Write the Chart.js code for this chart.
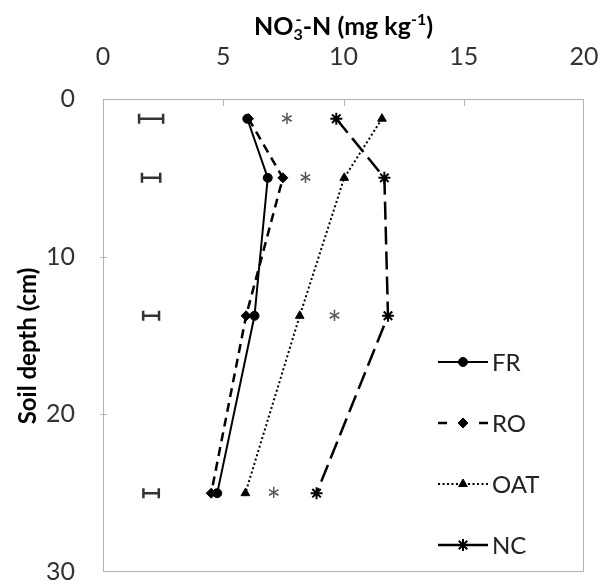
<!DOCTYPE html>
<html>
<head>
<meta charset="utf-8">
<script src="https://cdn.jsdelivr.net/npm/chart.js@4/dist/chart.umd.min.js"></script>
<style>
  html, body { margin: 0; padding: 0; background: #fff; }
  canvas { display: block; }
</style>
</head>
<body>
<canvas id="profile" width="603" height="588"></canvas>
<script>
// Sampling depths (cm, layer midpoints)
const depths = [1.25, 5, 13.75, 25];

// NO3--N concentration (mg kg-1) per treatment
const frValues  = [6.0, 6.85, 6.3, 4.75];
const roValues  = [6.05, 7.48, 5.95, 4.5];
const oatValues = [11.6, 10.03, 8.18, 5.92];
const ncValues  = [9.7, 11.7, 11.85, 8.88];

const seriesNames = ['FR', 'RO', 'OAT', 'NC'];

// Significance markers ("*") per depth
const sigMarkX = [7.65, 8.42, 9.62, 7.1];

// LSD bars per depth
const lsdCenter = [2.0, 2.0, 2.0, 2.0];
const lsdHalf   = [0.5, 0.38, 0.33, 0.32];

// Axis ranges / ticks
const xTicks = [0, 5, 10, 15, 20];
const yTicks = [0, 10, 20, 30];

const xTitleParts = [
  { t: 'NO', kind: 'main' },
  { t: '3', kind: 'sub', stackWith: '-' },
  { t: '-N (mg kg', kind: 'main' },
  { t: '-1', kind: 'sup' },
  { t: ')', kind: 'main' }
];
const yTitle = 'Soil depth (cm)';

const FONT = 'Lato, "Open Sans", sans-serif';
const toPoints = vals => depths.map((d, i) => ({ x: vals[i], y: d }));

const seriesStyle = [
  { dash: [],       legendDash: [],        width: 2,   point: 'circle',   r: 4.5, pw: 1 },
  { dash: [9, 6],   legendDash: [9, 100],  width: 2.5, point: 'rectRot',  r: 5,   pw: 1 },
  { dash: [2, 2.5], legendDash: [2, 2.5],  width: 2,   point: 'triangle', r: 5,   pw: 1 },
  { dash: [18, 7],  legendDash: [],        width: 2.5, point: 'star',     r: 6,   pw: 2 }
];
const seriesValues = [frValues, roValues, oatValues, ncValues];

const datasets = seriesNames.map((name, k) => ({
  label: name,
  data: toPoints(seriesValues[k]),
  showLine: true,
  borderColor: '#000',
  backgroundColor: '#000',
  borderWidth: seriesStyle[k].width,
  borderDash: seriesStyle[k].dash,
  pointStyle: seriesStyle[k].point,
  pointRadius: seriesStyle[k].r,
  pointBorderWidth: seriesStyle[k].pw,
  pointBackgroundColor: '#000',
  pointBorderColor: '#000',
  tension: 0
}));

// Frame, inner tick marks, LSD bars, significance stars, titles and legend
const frameAndMarks = {
  id: 'frameAndMarks',
  beforeDatasetsDraw(chart) {
    const { ctx, chartArea: a, scales: { x, y } } = chart;
    ctx.save();
    ctx.strokeStyle = '#b3b3b3';
    ctx.lineWidth = 1;
    ctx.strokeRect(a.left + 0.5, a.top + 0.5, a.right - a.left - 1, a.bottom - a.top - 1);
    ctx.beginPath();
    xTicks.slice(1, -1).forEach(v => {
      const px = Math.round(x.getPixelForValue(v)) + 0.5;
      ctx.moveTo(px, a.top); ctx.lineTo(px, a.top + 7);
    });
    yTicks.slice(1, -1).forEach(v => {
      const py = Math.round(y.getPixelForValue(v)) + 0.5;
      ctx.moveTo(a.left - 3, py); ctx.lineTo(a.left + 4, py);
    });
    ctx.stroke();

    // LSD bars
    ctx.strokeStyle = '#333';
    ctx.lineWidth = 2.5;
    depths.forEach((d, i) => {
      const py = y.getPixelForValue(d);
      const x0 = x.getPixelForValue(lsdCenter[i] - lsdHalf[i]);
      const x1 = x.getPixelForValue(lsdCenter[i] + lsdHalf[i]);
      ctx.beginPath();
      ctx.moveTo(x0, py); ctx.lineTo(x1, py);
      ctx.moveTo(x0, py - 5); ctx.lineTo(x0, py + 5);
      ctx.moveTo(x1, py - 5); ctx.lineTo(x1, py + 5);
      ctx.stroke();
    });

    // significance stars
    ctx.fillStyle = '#555';
    ctx.font = '34px ' + FONT;
    ctx.textAlign = 'center';
    ctx.textBaseline = 'alphabetic';
    const m = ctx.measureText('*');
    const mid = (m.actualBoundingBoxAscent - m.actualBoundingBoxDescent) / 2;
    depths.forEach((d, i) => {
      ctx.fillText('*', x.getPixelForValue(sigMarkX[i]), y.getPixelForValue(d) - 1 + mid);
    });
    ctx.restore();
  },
  afterDraw(chart) {
    const { ctx, chartArea: a } = chart;
    ctx.save();
    ctx.fillStyle = '#000';

    // top axis title with sub/superscripts
    const mainF = 'bold 25px ' + FONT, smallF = 'bold 16px ' + FONT;
    const widthOf = p => {
      ctx.font = p.kind === 'main' ? mainF : smallF;
      let w = ctx.measureText(p.t).width;
      if (p.stackWith) w = Math.max(w, ctx.measureText(p.stackWith).width + 2);
      return w;
    };
    const total = xTitleParts.reduce((s, p) => s + widthOf(p), 0);
    let cx = (a.left + a.right) / 2 - total / 2;
    const base = 35;
    ctx.textAlign = 'left';
    ctx.textBaseline = 'alphabetic';
    xTitleParts.forEach(p => {
      const w = widthOf(p);
      if (p.kind === 'main') {
        ctx.font = mainF; ctx.fillText(p.t, cx, base);
      } else if (p.kind === 'sub') {
        ctx.font = smallF; ctx.fillText(p.t, cx, base + 5);
        if (p.stackWith) ctx.fillText(p.stackWith, cx + 2, base - 10);
      } else {
        ctx.font = smallF; ctx.fillText(p.t, cx, base - 10);
      }
      cx += w;
    });

    // left axis title
    ctx.save();
    ctx.translate(28, 346);
    ctx.rotate(-Math.PI / 2);
    ctx.font = 'bold 24px ' + FONT;
    ctx.textAlign = 'center';
    ctx.textBaseline = 'middle';
    ctx.fillText(yTitle, 0, 0);
    ctx.restore();

    // legend
    const rows = [362, 423, 484, 545];
    const lx0 = 438, lx1 = 488, lm = 463;
    chart.data.datasets.forEach((ds, k) => {
      const ly = rows[k];
      ctx.strokeStyle = '#000';
      ctx.lineWidth = ds.borderWidth;
      ctx.setLineDash(seriesStyle[k].legendDash);
      ctx.beginPath();
      ctx.moveTo(lx0, ly); ctx.lineTo(lm, ly);
      ctx.moveTo(lx1, ly); ctx.lineTo(lm, ly);
      ctx.stroke();
      ctx.setLineDash([]);
      ctx.fillStyle = '#000';
      ctx.lineWidth = ds.pointBorderWidth;
      Chart.helpers.drawPoint(ctx, {
        pointStyle: ds.pointStyle, rotation: 0,
        radius: ds.pointRadius, borderWidth: ds.pointBorderWidth
      }, lm, ly);
      ctx.fillStyle = '#222';
      ctx.font = '24px ' + FONT;
      ctx.textAlign = 'left';
      ctx.textBaseline = 'middle';
      ctx.fillText(ds.label, 492, ly + 1);
    });
    ctx.restore();
  }
};

new Chart(document.getElementById('profile'), {
  type: 'scatter',
  data: { datasets },
  options: {
    responsive: false,
    devicePixelRatio: 1,
    animation: false,
    layout: { padding: { top: 0, left: 0, right: 19, bottom: 16 } },
    plugins: { legend: { display: false }, tooltip: { enabled: false } },
    scales: {
      x: {
        type: 'linear',
        position: 'top',
        min: xTicks[0], max: xTicks[xTicks.length - 1],
        afterBuildTicks: s => { s.ticks = xTicks.map(v => ({ value: v })); },
        afterFit: s => { s.height = 99; s.paddingLeft = 0; s.paddingRight = 0; },
        grid: { display: false, drawTicks: false },
        border: { display: false },
        ticks: { color: '#333', padding: 27, font: { family: FONT, size: 25 } }
      },
      y: {
        type: 'linear',
        reverse: true,
        min: yTicks[0], max: yTicks[yTicks.length - 1],
        afterBuildTicks: s => { s.ticks = yTicks.map(v => ({ value: v })); },
        afterFit: s => { s.width = 103; s.paddingTop = 0; s.paddingBottom = 0; },
        grid: { display: false, drawTicks: false },
        border: { display: false },
        ticks: { color: '#333', padding: 28, font: { family: FONT, size: 25 } }
      }
    }
  },
  plugins: [frameAndMarks]
});
</script>
</body>
</html>
